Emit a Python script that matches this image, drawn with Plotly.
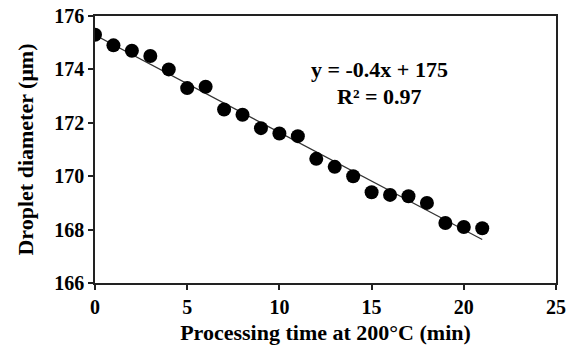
import numpy as np
import plotly.graph_objects as go

time_min = [0, 1, 2, 3, 4, 5, 6, 7, 8, 9, 10, 11, 12, 13, 14, 15, 16, 17, 18, 19, 20, 21]
diameter_um = [175.3, 174.9, 174.7, 174.5, 174.0, 173.3, 173.35, 172.5, 172.3, 171.8,
               171.6, 171.5, 170.65, 170.35, 170.0, 169.4, 169.3, 169.25, 169.0,
               168.25, 168.1, 168.05]
x_ticks = [0, 5, 10, 15, 20, 25]
y_ticks = [166, 168, 170, 172, 174, 176]
eq_text = "y = -0.4x + 175"
r2_text = "R² = 0.97"

slope, intercept = np.polyfit(time_min, diameter_um, 1)
fit_x = [time_min[0], time_min[-1]]
fit_y = [slope * v + intercept for v in fit_x]

FONT = "Liberation Serif"

fig = go.Figure()
fig.add_trace(go.Scatter(x=fit_x, y=fit_y, mode="lines",
                         line=dict(color="#333333", width=1.2), showlegend=False))
fig.add_trace(go.Scatter(x=time_min, y=diameter_um, mode="markers",
                         marker=dict(color="black", size=14), showlegend=False))

ann_font = dict(family=FONT, size=22, color="black", weight="bold")
fig.add_annotation(x=15.45, y=174.0, text=eq_text, showarrow=False,
                   font=ann_font, xanchor="center", yanchor="middle")
fig.add_annotation(x=15.45, y=173.0, text=r2_text, showarrow=False,
                   font=ann_font, xanchor="center", yanchor="middle")

axis_common = dict(showline=True, linecolor="#222222", linewidth=1.5, mirror=True,
                   showgrid=False, zeroline=False, ticks="outside", ticklen=5,
                   tickcolor="#222222", tickwidth=1.5, automargin=False,
                   tickfont=dict(family=FONT, size=20, color="black", weight="bold"))

fig.update_xaxes(range=[0, 25], tickvals=x_ticks,
                 ticktext=[f"<b>{v}</b>" for v in x_ticks],
                 title=dict(text="Processing time at 200°C (min)",
                            font=dict(family=FONT, size=22, color="black", weight="bold"),
                            standoff=8),
                 **axis_common)
fig.update_yaxes(range=[166, 176], tickvals=y_ticks,
                 ticktext=[f"<b>{v}</b>" for v in y_ticks],
                 title=dict(text="Droplet diameter (μm)",
                            font=dict(family=FONT, size=22, color="black", weight="bold"),
                            standoff=15),
                 **axis_common)

fig.update_layout(width=582, height=345, margin=dict(l=95, r=26, t=16, b=62),
                  plot_bgcolor="white", paper_bgcolor="white")

fig.write_html("out.html", config={"displayModeBar": False},
               post_script="document.body.style.margin='0';")
